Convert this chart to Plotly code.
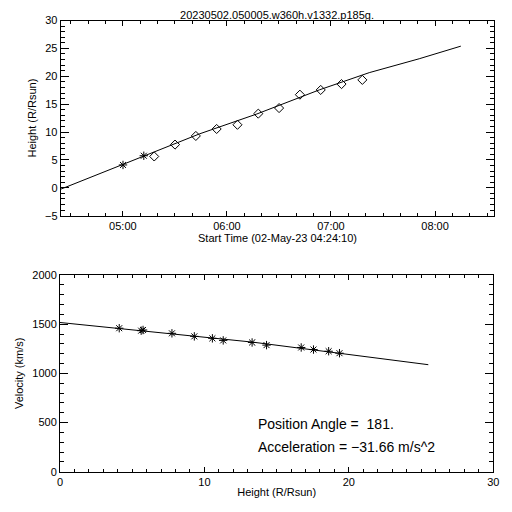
import plotly.graph_objects as go

# ---- data ----
title_text = "20230502.050005.w360h.v1332.p185g."

star_times = ["2023-05-02 05:00:05", "2023-05-02 05:12:05"]
star_heights = [4.1, 5.75]

diamond_times = ["2023-05-02 05:18:05", "2023-05-02 05:30:05", "2023-05-02 05:42:05",
                 "2023-05-02 05:54:05", "2023-05-02 06:06:05", "2023-05-02 06:18:05",
                 "2023-05-02 06:30:05", "2023-05-02 06:42:05", "2023-05-02 06:54:05",
                 "2023-05-02 07:06:05", "2023-05-02 07:18:05"]
diamond_heights = [5.62, 7.75, 9.3, 10.55, 11.3, 13.3, 14.3, 16.7, 17.55, 18.6, 19.35]

fit_times = ["2023-05-02 04:24:10", "2023-05-02 04:46:46", "2023-05-02 05:00:00",
             "2023-05-02 05:44:16", "2023-05-02 06:17:16", "2023-05-02 06:53:22",
             "2023-05-02 07:22:04", "2023-05-02 07:50:52", "2023-05-02 08:14:52"]
fit_heights = [-0.25, 2.55, 4.1, 9.68, 13.24, 17.57, 20.65, 23.14, 25.4]

vel_heights = [4.1, 5.62, 5.75, 7.75, 9.3, 10.55, 11.3, 13.3, 14.3, 16.7, 17.55, 18.6, 19.35]
vel_values = [1459, 1434, 1441, 1407, 1376, 1356, 1335, 1314, 1287, 1263, 1242, 1225, 1205]

vfit_heights = [0.0, 13.3, 25.5]
vfit_values = [1517, 1318, 1088]

position_angle = "181."
acceleration = "-31.66"

# ---- figure ----
FONT = "Liberation Sans, Arial, sans-serif"
W = 496  # page body has an 8px margin; the figure spans page pixels 8..504


def px(x):
    return (x - 8) / W


def py(y):
    return 1 - (y - 8) / W


fig = go.Figure()

fig.add_trace(go.Scatter(x=fit_times, y=fit_heights, mode="lines",
                         line=dict(color="black", width=1), xaxis="x", yaxis="y",
                         showlegend=False))
fig.add_trace(go.Scatter(x=star_times, y=star_heights, mode="markers",
                         marker=dict(symbol="asterisk-open", size=7, color="black",
                                     line=dict(color="black", width=1)),
                         xaxis="x", yaxis="y", showlegend=False))
fig.add_trace(go.Scatter(x=diamond_times, y=diamond_heights, mode="markers",
                         marker=dict(symbol="diamond-open", size=7, color="black",
                                     line=dict(color="black", width=1)),
                         xaxis="x", yaxis="y", showlegend=False))

fig.add_trace(go.Scatter(x=vfit_heights, y=vfit_values, mode="lines",
                         line=dict(color="black", width=1), xaxis="x2", yaxis="y2",
                         showlegend=False))
fig.add_trace(go.Scatter(x=vel_heights, y=vel_values, mode="markers",
                         marker=dict(symbol="asterisk-open", size=7, color="black",
                                     line=dict(color="black", width=1)),
                         xaxis="x2", yaxis="y2", showlegend=False))

axis_common = dict(showline=True, linecolor="black", linewidth=1, mirror="allticks",
                   ticks="inside", tickcolor="black", tickwidth=1, showgrid=False,
                   zeroline=False, automargin=False,
                   tickfont=dict(family=FONT, size=11, color="black"))

fig.update_layout(
    width=W, height=W,
    margin=dict(l=0, r=0, t=0, b=0, autoexpand=False),
    paper_bgcolor="white", plot_bgcolor="white",
    font=dict(family=FONT, color="black"),
    title=dict(text=title_text, x=px(277), xanchor="center", y=py(14.8), yanchor="middle",
               automargin=False,
               font=dict(family=FONT, size=11, color="black")),
    xaxis=dict(axis_common, domain=[px(60.7), px(494.3)], anchor="y", type="date",
               range=["2023-05-02 04:24:10", "2023-05-02 08:34:10"],
               tick0="2023-05-02 05:00:00", dtick=3600000, tickformat="%H:%M",
               ticklen=5, minor=dict(dtick=600000, ticks="inside", ticklen=3,
                                     tickcolor="black", showgrid=False),
               title=dict(text="Start Time (02-May-23 04:24:10)", standoff=3,
                          font=dict(family=FONT, size=11, color="black"))),
    yaxis=dict(axis_common, domain=[py(215.7), py(20.5)], anchor="x",
               range=[-5, 30], dtick=5, tick0=0, ticklen=8,
               minor=dict(dtick=1, ticks="inside", ticklen=4, tickcolor="black",
                          showgrid=False),
               title=dict(text="Height (R/Rsun)", standoff=6,
                          font=dict(family=FONT, size=11, color="black"))),
    xaxis2=dict(axis_common, domain=[px(60), px(493.3)], anchor="y2",
                range=[0, 30], dtick=10, tick0=0, ticklen=5,
                minor=dict(dtick=1, ticks="inside", ticklen=3, tickcolor="black",
                           showgrid=False),
                title=dict(text="Height (R/Rsun)", standoff=1,
                           font=dict(family=FONT, size=11, color="black"))),
    yaxis2=dict(axis_common, domain=[py(471.7), py(275)], anchor="x2",
                range=[0, 2000], dtick=500, tick0=0, ticklen=8,
                minor=dict(dtick=100, ticks="inside", ticklen=4, tickcolor="black",
                           showgrid=False),
                title=dict(text="Velocity (km/s)", standoff=6,
                           font=dict(family=FONT, size=11, color="black"))),
    annotations=[
        dict(text="Position Angle =  " + position_angle, xref="paper", yref="paper",
             x=px(256), y=py(424), xanchor="left", yanchor="middle",
             showarrow=False, font=dict(family=FONT, size=14, color="black")),
        dict(text="Acceleration = " + acceleration.replace("-", "\u2212") + " m/s^2",
             xref="paper", yref="paper",
             x=px(256), y=py(447), xanchor="left", yanchor="middle",
             showarrow=False, font=dict(family=FONT, size=14, color="black")),
    ],
)

fig.write_html("out.html", config={"displayModeBar": False})
